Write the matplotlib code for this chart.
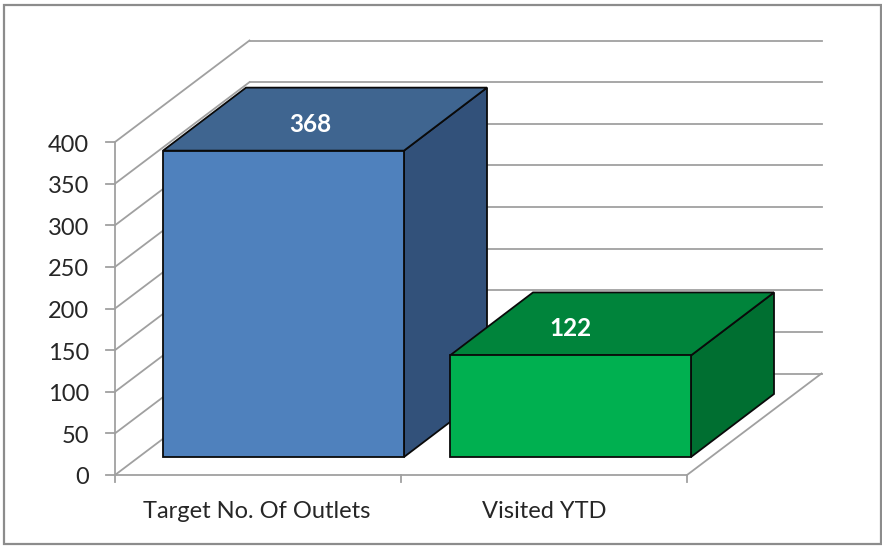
"""3D-look column chart, projected by hand onto a pixel-sized axes."""

import matplotlib

matplotlib.use("Agg")
import matplotlib.pyplot as plt
from matplotlib.patches import Polygon, Rectangle

categories = ["Target No. Of Outlets", "Visited YTD"]
values = [368, 122]
y_ticks = [0, 50, 100, 150, 200, 250, 300, 350, 400]

front_colors = ["#4F81BD", "#00B050"]
top_colors = ["#3F6590", "#00843B"]
side_colors = ["#32517A", "#006F31"]

GRID = "#A0A0A0"
TEXT = "#262626"
FONT = "Lato"

# projection of the chart box, in pixels
X0, Y0 = 115.0, 475.0
CAT_W = 286.0
PX_PER_UNIT = 333.0 / 400.0
WALL_DX, WALL_DY = 134.5, -101.5
BAR_DX, BAR_DY = 83.0, -63.0
BAR_LEFT = [163.0, 450.0]
BAR_W = 241.0
BAR_BASE = 457.0
LABEL_DX = [27.0, 0.0]  # value labels are not centred the same way on both bars


def val_y(v):
    return Y0 - v * PX_PER_UNIT


fig = plt.figure(figsize=(8.82, 5.46), dpi=100)
ax = fig.add_axes([0, 0, 1, 1])
ax.set_xlim(0, 882)
ax.set_ylim(546, 0)
ax.axis("off")

# outer frame
ax.add_patch(Rectangle((3.5, 4.5), 877.5, 539.5, fill=False, ec="#8C8C8C", lw=1.6))

x_end = X0 + CAT_W * len(categories)

# side wall diagonals and back wall lines
for t in y_ticks:
    y = val_y(t)
    ax.plot([X0, X0 + WALL_DX], [y, y + WALL_DY], color=GRID, lw=1.3, zorder=1)
    ax.plot([X0 + WALL_DX, x_end + WALL_DX], [y + WALL_DY, y + WALL_DY], color=GRID, lw=1.3, zorder=1)
    ax.plot([X0 - 9, X0], [y, y], color=GRID, lw=1.3, zorder=1)
    ax.text(X0 - 26, y + 3, str(t), ha="right", va="center", fontsize=17,
            family=FONT, color=TEXT)

# floor and axes
ax.plot([X0, X0], [val_y(0), val_y(400)], color=GRID, lw=1.3, zorder=1)
ax.plot([X0, x_end], [Y0, Y0], color=GRID, lw=1.3, zorder=1)
ax.plot([x_end, x_end + WALL_DX], [Y0, Y0 + WALL_DY], color=GRID, lw=1.3, zorder=1)
for i in range(len(categories) + 1):
    ax.plot([X0 + CAT_W * i] * 2, [Y0, Y0 + 7], color=GRID, lw=1.3, zorder=1)

for i, (cat, v) in enumerate(zip(categories, values)):
    left = BAR_LEFT[i]
    right = left + BAR_W
    top = BAR_BASE - v * PX_PER_UNIT
    # side, top, then front
    ax.add_patch(Polygon(
        [(right, BAR_BASE), (right + BAR_DX, BAR_BASE + BAR_DY), (right + BAR_DX, top + BAR_DY), (right, top)],
        fc=side_colors[i], ec="#0A0A0A", lw=1.3, zorder=2,
    ))
    ax.add_patch(Polygon(
        [(left, top), (left + BAR_DX, top + BAR_DY), (right + BAR_DX, top + BAR_DY), (right, top)],
        fc=top_colors[i], ec="#0A0A0A", lw=1.3, zorder=2,
    ))
    ax.add_patch(Rectangle((left, top), BAR_W, BAR_BASE - top, fc=front_colors[i], ec="#0A0A0A", lw=1.3, zorder=3))
    ax.text(left + BAR_W / 2 + LABEL_DX[i], top + BAR_DY / 2 + 5, str(v), ha="center", va="center",
            fontsize=17.5, fontweight="bold", family=FONT, color="white", zorder=4)
    ax.text(X0 + CAT_W * (i + 0.5) + (-1 if i == 0 else 0), 512, cat, ha="center", va="center",
            fontsize=17, family=FONT, color=TEXT)

fig.savefig("out.png", dpi=100)
